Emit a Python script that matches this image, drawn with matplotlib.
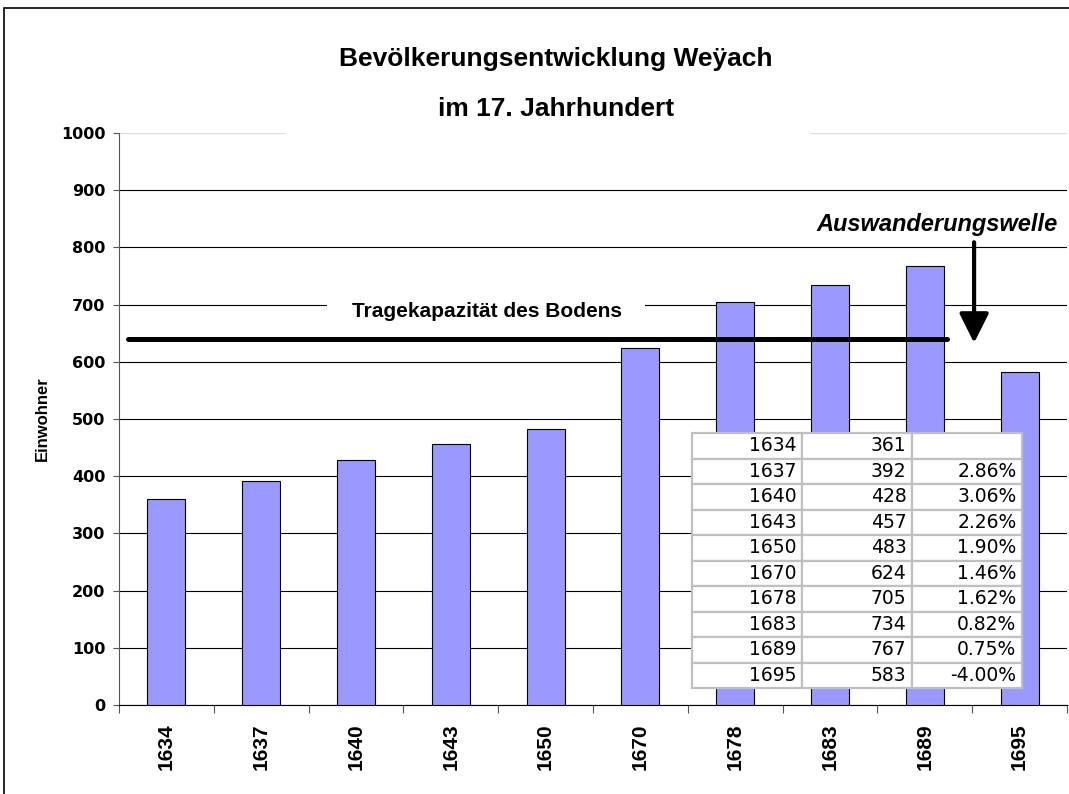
import matplotlib
matplotlib.use("Agg")
import matplotlib.pyplot as plt
from matplotlib.patches import Rectangle

years = ["1634", "1637", "1640", "1643", "1650", "1670", "1678", "1683", "1689", "1695"]
population = [361, 392, 428, 457, 483, 624, 705, 734, 767, 583]
growth = ["", "2.86%", "3.06%", "2.26%", "1.90%", "1.46%", "1.62%", "0.82%", "0.75%", "-4.00%"]
capacity = 640
yticks = list(range(0, 1001, 100))

W, H = 1069, 794
fig = plt.figure(figsize=(W / 100, H / 100), dpi=100)
fig.patches.append(Rectangle((4 / W, -0.1), 1.2, (1 - 8 / H) + 0.1, transform=fig.transFigure,
                             fill=False, edgecolor="black", linewidth=1.2))

ax = fig.add_axes([119 / W, 1 - 705 / H, (1067 - 119) / W, (705 - 133) / H])
x = list(range(len(years)))
ax.bar(x, population, width=0.4, color="#9999FF", edgecolor="black", linewidth=0.8, zorder=3)
ax.set_xlim(-0.5, len(years) - 0.5)
ax.set_ylim(0, 1000)
ax.set_yticks(yticks)
ax.set_yticklabels([str(v) for v in yticks], fontfamily="DejaVu Sans", fontweight="bold", fontsize=11.5)
ax.set_xticks([i - 0.5 for i in range(len(years) + 1)], minor=False)
ax.set_xticklabels([""] * (len(years) + 1))
ax.set_xticks(x, minor=True)
ax.set_xticklabels(years, minor=True, rotation=90, fontfamily="Liberation Sans", fontweight="bold", fontsize=15)
ax.tick_params(axis="x", which="minor", length=0, pad=13)
ax.tick_params(axis="x", which="major", length=6, direction="out", width=0.8, color="#555555")
ax.tick_params(axis="y", length=4.3, direction="out", width=0.8, color="#555555", pad=5.5)
ax.yaxis.grid(True, color="black", linewidth=0.8, zorder=0)
gl = ax.yaxis.get_gridlines()
gl[-1].set_color("#dddddd")
ax.set_axisbelow(True)
for s in ["top", "right"]:
    ax.spines[s].set_visible(False)
ax.spines["left"].set_color("#555555")
ax.spines["bottom"].set_color("black")
ax.set_ylabel("Einwohner", fontfamily="Liberation Sans", fontweight="bold", fontsize=12, labelpad=8)

# carrying capacity line
ax.plot([-0.41, 8.23], [capacity, capacity], color="black", linewidth=3.6, solid_capstyle="round", zorder=4)
# white label area masking the gridline behind the label
ax.add_patch(Rectangle((1.694, 680), 5.049 - 1.694, 30, facecolor="white", edgecolor="none", zorder=1))
ax.text(3.38, 688, "Tragekapazität des Bodens", ha="center", va="center", fontfamily="Liberation Sans",
        fontweight="bold", fontsize=15, zorder=5)

# emigration arrow
ax.annotate("", xy=(8.52, 633), xytext=(8.52, 809),
            arrowprops=dict(arrowstyle="-|>,head_width=0.9,head_length=1.8", color="black", lw=3,
                            shrinkA=0, shrinkB=0), zorder=5)
ax.text(8.13, 840, "Auswanderungswelle", ha="center", va="center", fontfamily="Liberation Sans",
        fontweight="bold", fontstyle="italic", fontsize=17, zorder=5)

# title (white area masks the top gridline like in the original)
fig.add_artist(Rectangle((285 / W, 1 - 140 / H), (810 - 285) / W, 100 / H, transform=fig.transFigure,
                         facecolor="white", edgecolor="none", zorder=2))
fig.text(556 / W, 1 - 59 / H, "Bevölkerungsentwicklung Weÿach", ha="center", va="center",
         fontfamily="Liberation Sans", fontweight="bold", fontsize=19, zorder=3)
fig.text(556 / W, 1 - 109 / H, "im 17. Jahrhundert", ha="center", va="center",
         fontfamily="Liberation Sans", fontweight="bold", fontsize=19, zorder=3)

# data table
cell_text = [[years[i], str(population[i]), growth[i]] for i in range(len(years))]
tab = ax.table(cellText=cell_text, cellLoc="right",
               bbox=[(692 - 119) / 948, (705 - 688) / 572, (1022 - 692) / 948, (688 - 433) / 572],
               zorder=6)
tab.auto_set_font_size(False)
for (r, c), cell in tab.get_celld().items():
    cell.set_edgecolor("#c0c0c0")
    cell.set_linewidth(1.6)
    cell.set_facecolor("white")
    cell.PAD = 0.05
    cell.get_text().set_fontsize(13.5)
    cell.get_text().set_fontfamily("DejaVu Sans")

fig.savefig("out.png", dpi=100)
